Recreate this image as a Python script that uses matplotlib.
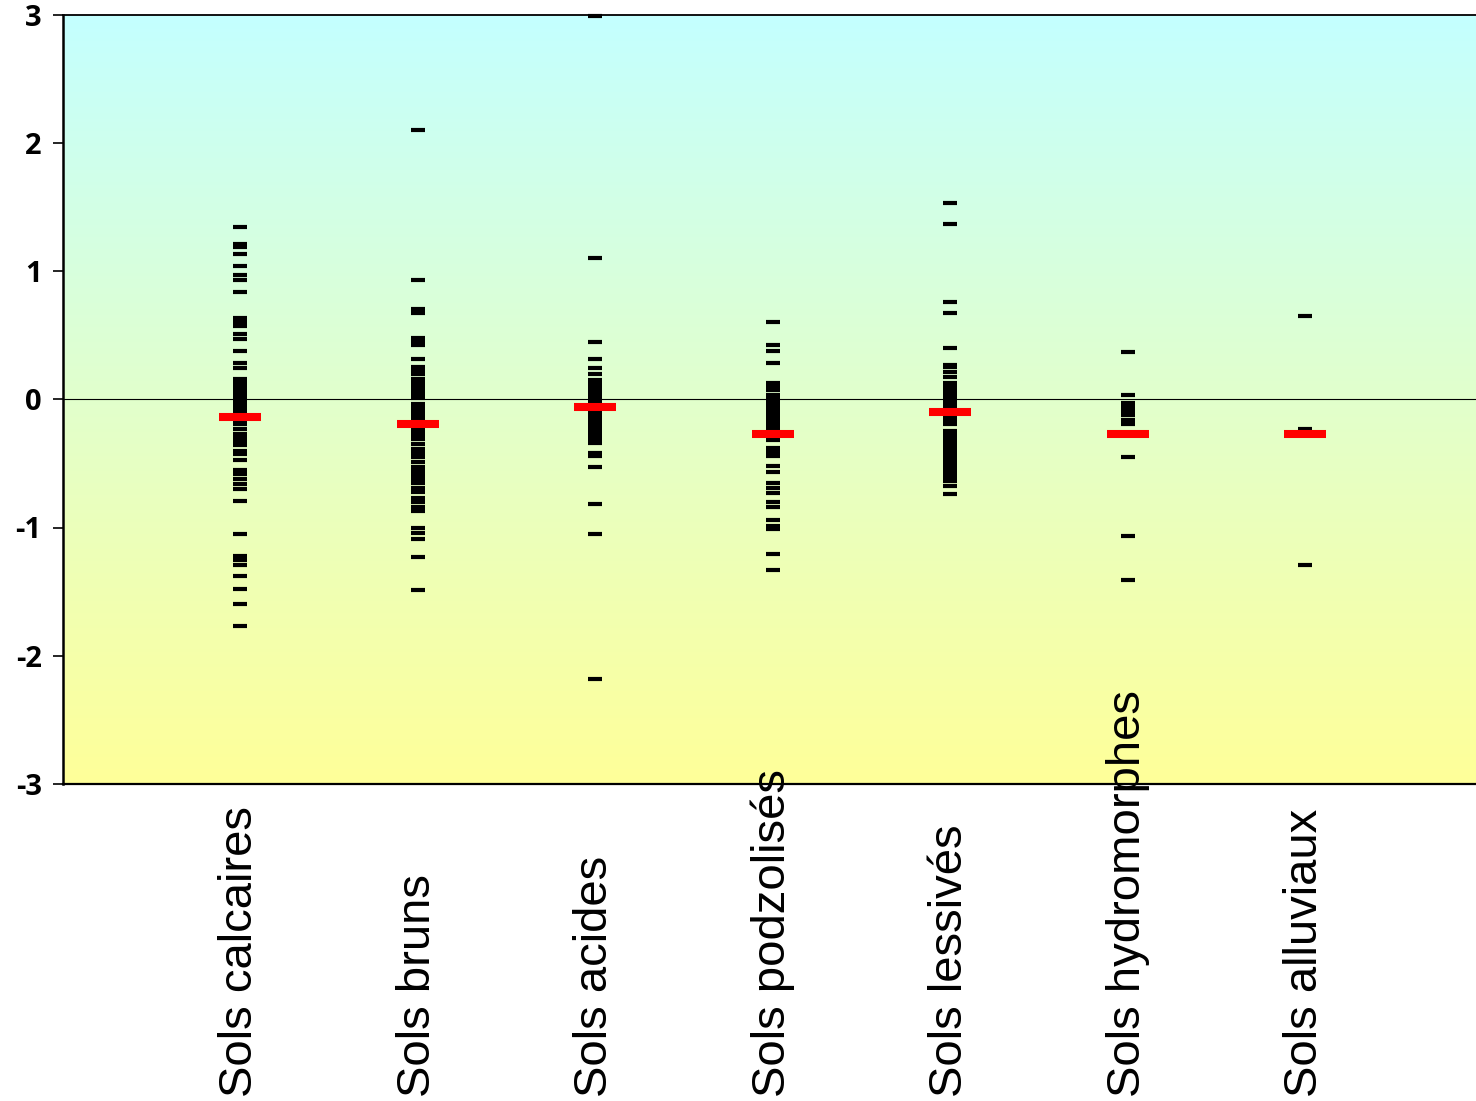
import numpy as np
import matplotlib
matplotlib.use("Agg")
import matplotlib.pyplot as plt
from matplotlib.colors import LinearSegmentedColormap
from matplotlib.transforms import blended_transform_factory

categories = ["Sols calcaires", "Sols bruns", "Sols acides", "Sols podzolisés",
              "Sols lessivés", "Sols hydromorphes", "Sols alluviaux"]

calcaires = [1.34, 1.21, 1.19, 1.13, 1.04, 0.97, 0.93, 0.84, 0.63, 0.60, 0.57, 0.51,
             0.47, 0.38, 0.28, 0.24, 0.16, 0.13, 0.10, 0.07, 0.05, 0.02, -0.01, -0.04,
             -0.07, -0.10, -0.13, -0.16, -0.19, -0.23, -0.27, -0.30, -0.33, -0.36,
             -0.40, -0.43, -0.47, -0.55, -0.58, -0.62, -0.66, -0.70, -0.79, -1.05,
             -1.22, -1.25, -1.29, -1.38, -1.48, -1.60, -1.77]
bruns = [2.10, 0.93, 0.70, 0.67, 0.48, 0.45, 0.42, 0.31, 0.25, 0.22, 0.20, 0.16, 0.13,
         0.10, 0.07, 0.04, 0.01, -0.04, -0.07, -0.10, -0.13, -0.16, -0.22, -0.25,
         -0.28, -0.31, -0.35, -0.39, -0.42, -0.45, -0.49, -0.53, -0.56, -0.59, -0.62,
         -0.65, -0.69, -0.72, -0.77, -0.80, -0.84, -0.87, -1.00, -1.04, -1.09, -1.23,
         -1.49]
acides = [2.99, 1.10, 0.45, 0.31, 0.24, 0.20, 0.15, 0.12, 0.09, 0.06, 0.03, 0.00,
          -0.03, -0.10, -0.13, -0.16, -0.19, -0.22, -0.25, -0.28, -0.31, -0.34,
          -0.42, -0.44, -0.53, -0.82, -1.05, -2.18]
podzolises = [0.60, 0.42, 0.38, 0.28, 0.13, 0.10, 0.07, 0.03, 0.00, -0.03, -0.06,
              -0.09, -0.12, -0.15, -0.18, -0.21, -0.23, -0.32, -0.38, -0.41, -0.44,
              -0.52, -0.57, -0.65, -0.69, -0.73, -0.80, -0.84, -0.94, -0.99, -1.01,
              -1.21, -1.33]
lessives = [1.53, 1.37, 0.76, 0.67, 0.40, 0.27, 0.25, 0.21, 0.17, 0.13, 0.10, 0.07,
            0.04, 0.02, -0.01, -0.04, -0.07, -0.13, -0.16, -0.19, -0.25, -0.28,
            -0.31, -0.34, -0.37, -0.40, -0.43, -0.46, -0.49, -0.52, -0.55, -0.58,
            -0.61, -0.64, -0.68, -0.74]
hydromorphes = [0.37, 0.03, -0.03, -0.06, -0.09, -0.12, -0.16, -0.19, -0.45, -1.07, -1.41]
alluviaux = [0.65, -0.23, -1.29]

moyennes = [-0.14, -0.19, -0.06, -0.27, -0.10, -0.27, -0.27]

series = [calcaires, bruns, acides, podzolises, lessives, hydromorphes, alluviaux]
yticks = [-3, -2, -1, 0, 1, 2, 3]

W, H = 1476, 1101
fig = plt.figure(figsize=(W / 100, H / 100), dpi=100)
# plot area runs slightly past the right edge of the figure
ax = fig.add_axes([62.5 / W, 1 - 784 / H, 1420 / W, (784 - 14.5) / H])

nslots = len(categories) + 1
ax.set_xlim(0, nslots)
ax.set_ylim(-3, 3)

# vertical background gradient: yellow at the bottom, pale cyan at the top
cmap = LinearSegmentedColormap.from_list("bg", ["#FFFF99", "#C4FFFF"])
grad = np.linspace(0, 1, 256).reshape(-1, 1)
ax.imshow(grad, cmap=cmap, origin="lower", aspect="auto",
          extent=[0, nslots, -3, 3], zorder=0)

ax.axhline(0, color="black", lw=0.8, zorder=1)

for i, vals in enumerate(series):
    x = np.full(len(vals), i + 1)
    ax.plot(x, vals, linestyle="none", marker="_", markersize=10.5,
            markeredgewidth=3.0, color="black", zorder=2, clip_on=False)
    ax.plot([i + 1], [moyennes[i]], linestyle="none", marker="_", markersize=30,
            markeredgewidth=5.8, color="#FF0000", zorder=3)

ax.set_xticks([])
ax.set_yticks(yticks)
ax.set_yticklabels([str(t) for t in yticks], fontfamily="Open Sans",
                   fontweight="bold", fontsize=21)
ax.tick_params(axis="y", direction="out", length=7, width=1.2, pad=8,
               colors="black")

ax.spines["right"].set_visible(False)
ax.spines["left"].set_linewidth(1.8)
ax.spines["bottom"].set_linewidth(1.6)
ax.spines["top"].set_linewidth(1.3)

trans = blended_transform_factory(ax.transData, fig.transFigure)
for i, name in enumerate(categories):
    ax.text(i + 1, 4 / H, name, transform=trans, rotation=90, ha="center",
            va="bottom", fontsize=34, fontfamily="Liberation Sans", color="black")

fig.savefig("out.png", dpi=100)
